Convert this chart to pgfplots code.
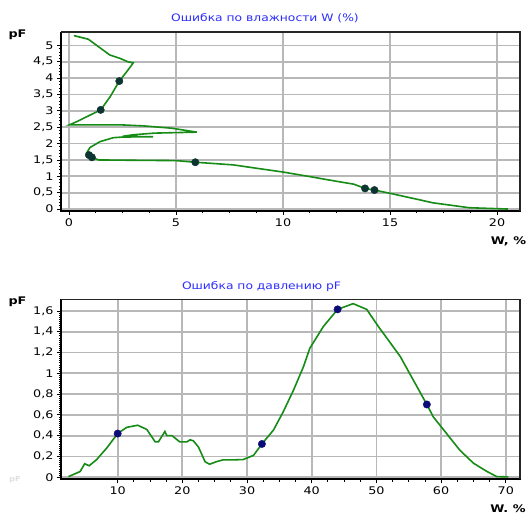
\documentclass[border=0pt]{standalone}
\usepackage{pgfplots}
\pgfplotsset{compat=1.18}
\usepackage{fontspec}
\setmainfont{DejaVu Sans}
\newfontfamily\tickfont[FakeStretch=1.22]{DejaVu Sans}
\newfontfamily\titlefont[FakeStretch=1.2]{DejaVu Sans}
\definecolor{lgreen}{RGB}{22,140,22}
\definecolor{mtop}{RGB}{12,52,48}
\definecolor{mbot}{RGB}{12,12,120}
\definecolor{tblue}{RGB}{45,45,255}
\definecolor{gridc}{RGB}{184,184,184}
\pgfplotsset{
  common/.style={
    scale only axis, width=459bp, height=179bp,
    axis line style={black, line width=0.8bp},
    xmajorgrids=true, ymajorgrids=true,
    major grid style={gridc, line width=1.8bp},
    tick style={black, line width=0.8bp},
    major tick length=4bp, minor tick length=2.2bp,
    tick align=outside, xtick pos=bottom, ytick pos=left,
    ticklabel style={font=\tickfont\fontsize{10.5}{11}\selectfont},
    /pgf/number format/use comma,
    /pgf/number format/assume math mode=true,
    clip=false,
  },
}
\begin{document}
\begin{tikzpicture}
\fill[white] (0,0) rectangle (528bp,515bp);
\useasboundingbox (0,0) rectangle (528bp,515bp);
% ---- top chart ----
\begin{axis}[common, at={(61bp,304bp)}, anchor=south west,
  xmin=-0.374, xmax=21.07, ymin=-0.06, ymax=5.41,
  xtick={0,5,10,15,20}, minor x tick num=3,
  ytick={0,0.5,1,1.5,2,2.5,3,3.5,4,4.5,5}, minor y tick num=4,
  yticklabel style={/pgf/number format/fixed, /pgf/number format/precision=1},
]
\addplot[lgreen, line width=1.6bp] coordinates {
(0.23,5.30) (0.9,5.19) (1.9,4.71) (2.4,4.60) (2.75,4.50) (3.0,4.47)
(2.93,4.40) (2.7,4.20) (2.35,3.91) (1.92,3.43) (1.48,3.03)
(0.67,2.77) (0.36,2.67) (0.01,2.57)
(2.5,2.57) (3.5,2.54) (4.8,2.47) (5.97,2.35)
(4.0,2.32) (3.0,2.27) (2.5,2.22) (3.93,2.21) (2.5,2.20) (2.07,2.18)
(1.45,2.06) (0.98,1.88) (0.83,1.72) (0.95,1.65) (1.09,1.58) (1.37,1.50)
(3.0,1.49) (5.0,1.48) (5.9,1.43) (7.66,1.35) (10,1.13) (11.26,0.99)
(12.3,0.87) (13.3,0.76) (13.83,0.63) (14.27,0.58) (15,0.48) (16.25,0.30)
(17,0.19) (18.7,0.04) (20.5,0)
};
\addplot[only marks, mark=*, mark size=3.7bp, mtop] coordinates {
(2.35,3.91) (1.48,3.03) (0.93,1.65) (1.07,1.58) (5.9,1.43) (13.83,0.63) (14.27,0.58)
};
\draw[black, line width=2bp] (rel axis cs:0,1) -- (rel axis cs:0,0) -- (rel axis cs:1,0);
\draw[black!85, line width=1.2bp] (rel axis cs:0,1) -- (rel axis cs:1,1) -- (rel axis cs:1,0);
\end{axis}
% ---- bottom chart ----
\begin{axis}[common, at={(61bp,35.7bp)}, anchor=south west, height=179.8bp,
  xmin=1.24, xmax=72.2, ymin=-0.02, ymax=1.71,
  xtick={10,20,30,40,50,60,70}, minor x tick num=3,
  ytick={0,0.2,0.4,0.6,0.8,1,1.2,1.4,1.6}, minor y tick num=9,
  yticklabel style={/pgf/number format/fixed, /pgf/number format/precision=1},
]
\addplot[lgreen, line width=1.6bp] coordinates {
(2.4,0.006) (4.2,0.055) (4.9,0.13) (5.6,0.11) (6.75,0.17) (8.3,0.28)
(10,0.42) (11.4,0.48) (13.1,0.50) (14.5,0.46) (15.8,0.34) (16.3,0.34)
(17.1,0.42) (17.3,0.44) (17.6,0.40) (18.4,0.40) (19.6,0.34) (20.7,0.34)
(21.2,0.36) (21.7,0.35) (22.5,0.29) (23.5,0.15) (24.2,0.125) (25.3,0.15)
(26.3,0.167) (27.9,0.167) (29.4,0.17) (31,0.21) (32.3,0.32) (34.1,0.455)
(35.6,0.63) (37.2,0.84) (38.7,1.06) (39.7,1.24) (41.8,1.45) (44.0,1.615)
(46.4,1.67) (48.5,1.615) (50.3,1.45) (51.6,1.34) (53.7,1.16) (55.7,0.935)
(57.8,0.70) (58.8,0.58) (60.4,0.455) (62.9,0.26) (65,0.135) (67.1,0.055)
(68.6,0.006) (70.4,0.003)
};
\addplot[only marks, mark=*, mark size=3.7bp, mbot] coordinates {
(10.0,0.42) (32.3,0.32) (44.0,1.615) (57.8,0.70)
};
\draw[black, line width=2bp] (rel axis cs:0,1) -- (rel axis cs:0,0) -- (rel axis cs:1,0);
\draw[black!85, line width=1.2bp] (rel axis cs:0,1) -- (rel axis cs:1,1) -- (rel axis cs:1,0);
\end{axis}
% ---- titles and labels ----
\node[tblue, font=\titlefont\fontsize{10.3}{11}\selectfont] at (265bp,497bp) {Ошибка по влажности W (\%)};
\node[tblue, font=\titlefont\fontsize{10.3}{11}\selectfont] at (261.5bp,228bp) {Ошибка по давлению pF};
\node[font=\tickfont\bfseries\fontsize{10.5}{11}\selectfont] at (17.5bp,480bp) {pF};
\node[font=\tickfont\bfseries\fontsize{10.5}{11}\selectfont] at (17.5bp,213.3bp) {pF};
\node[font=\tickfont\bfseries\fontsize{10.5}{11}\selectfont] at (508.5bp,273.3bp) {W, \%};
\node[font=\tickfont\bfseries\fontsize{10.5}{11}\selectfont] at (508bp,6bp) {W. \%};
\node[black!12, font=\tickfont\bfseries\fontsize{7}{8}\selectfont] at (15bp,35bp) {pF};
\end{tikzpicture}
\end{document}
